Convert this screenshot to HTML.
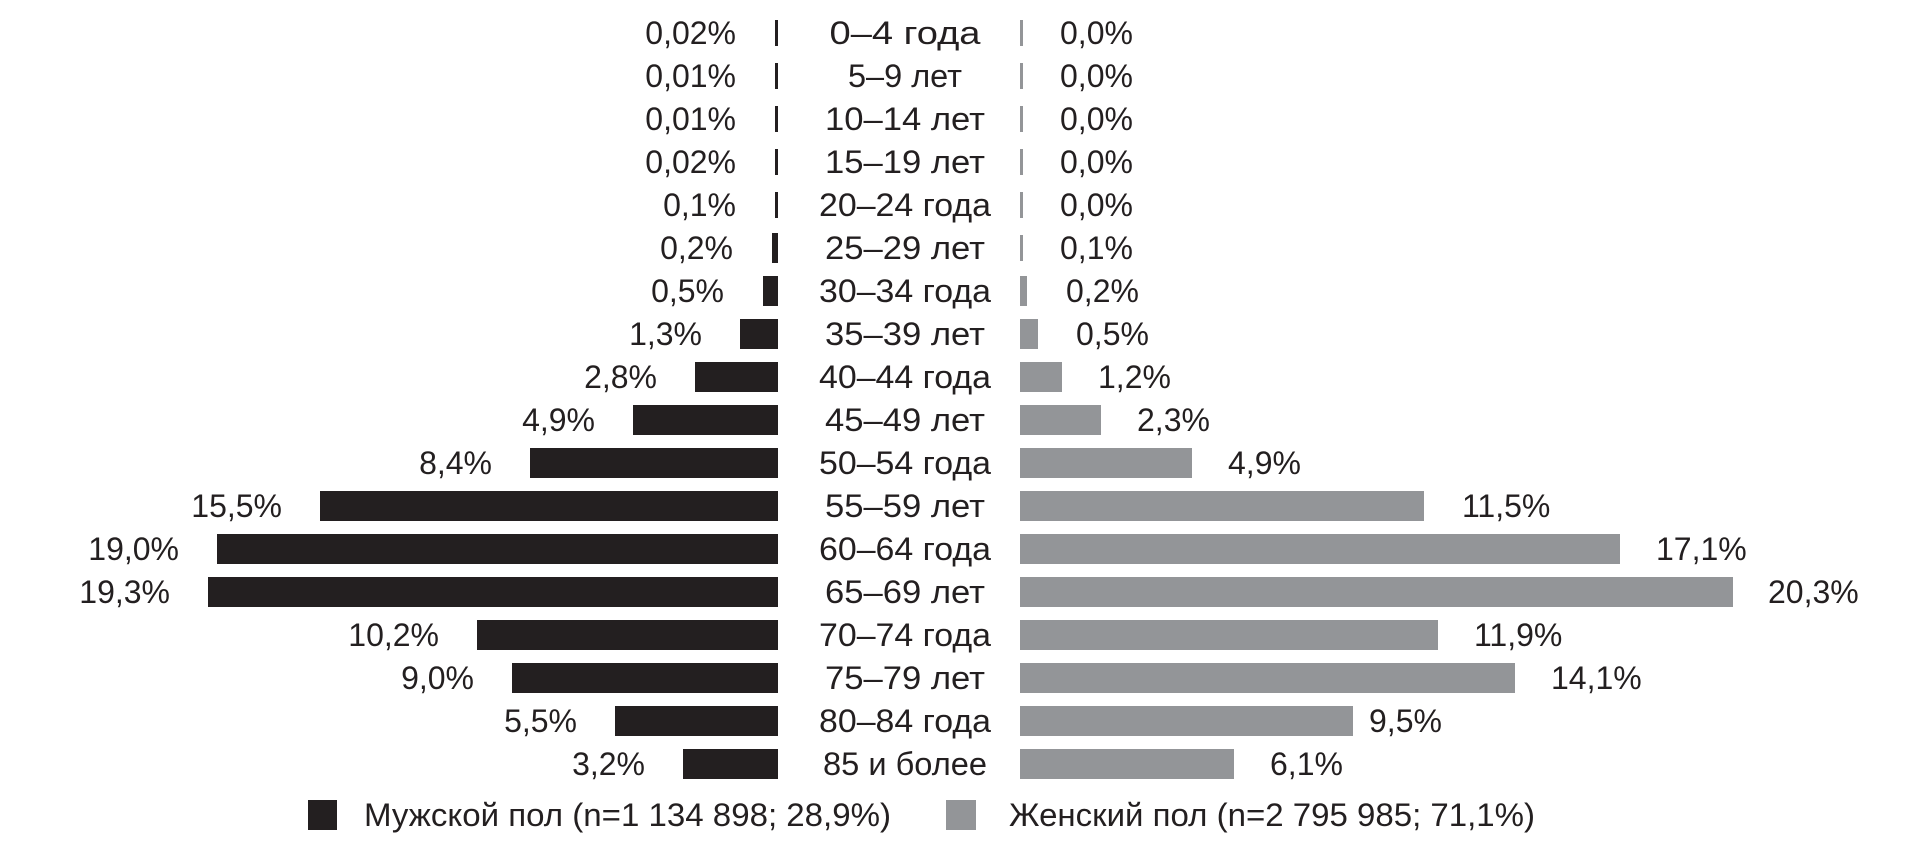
<!DOCTYPE html>
<html><head><meta charset="utf-8"><style>
html,body{margin:0;padding:0;background:#fff;}
svg{display:block;}
text{font-family:"Liberation Sans","DejaVu Sans",sans-serif;font-size:32px;fill:#231f20;}
.m{text-anchor:end;}
.c{text-anchor:middle;font-size:32px;}
</style></head><body>
<svg width="1915" height="844" viewBox="0 0 1915 844" xmlns="http://www.w3.org/2000/svg">
<g fill="#231f20">
<rect x="775" y="20" width="3" height="26"/>
<rect x="775" y="63" width="3" height="26"/>
<rect x="775" y="106" width="3" height="26"/>
<rect x="775" y="149" width="3" height="26"/>
<rect x="775" y="192" width="3" height="26"/>
<rect x="772" y="233" width="6" height="30"/>
<rect x="763" y="276" width="15" height="30"/>
<rect x="740" y="319" width="38" height="30"/>
<rect x="695" y="362" width="83" height="30"/>
<rect x="633" y="405" width="145" height="30"/>
<rect x="530" y="448" width="248" height="30"/>
<rect x="320" y="491" width="458" height="30"/>
<rect x="217" y="534" width="561" height="30"/>
<rect x="208" y="577" width="570" height="30"/>
<rect x="477" y="620" width="301" height="30"/>
<rect x="512" y="663" width="266" height="30"/>
<rect x="615" y="706" width="163" height="30"/>
<rect x="683" y="749" width="95" height="30"/>
<rect x="308" y="800" width="29" height="30"/>
</g>
<g fill="#939598">
<rect x="1020" y="20" width="3" height="26"/>
<rect x="1020" y="63" width="3" height="26"/>
<rect x="1020" y="106" width="3" height="26"/>
<rect x="1020" y="149" width="3" height="26"/>
<rect x="1020" y="192" width="3" height="26"/>
<rect x="1020" y="235" width="3" height="26"/>
<rect x="1020" y="276" width="7" height="30"/>
<rect x="1020" y="319" width="18" height="30"/>
<rect x="1020" y="362" width="42" height="30"/>
<rect x="1020" y="405" width="81" height="30"/>
<rect x="1020" y="448" width="172" height="30"/>
<rect x="1020" y="491" width="404" height="30"/>
<rect x="1020" y="534" width="600" height="30"/>
<rect x="1020" y="577" width="713" height="30"/>
<rect x="1020" y="620" width="418" height="30"/>
<rect x="1020" y="663" width="495" height="30"/>
<rect x="1020" y="706" width="333" height="30"/>
<rect x="1020" y="749" width="214" height="30"/>
<rect x="946" y="800" width="30" height="30"/>
</g>
<g>
<text class="m" x="736" y="44">0,02%</text>
<text class="m" x="736" y="87">0,01%</text>
<text class="m" x="736" y="130">0,01%</text>
<text class="m" x="736" y="173">0,02%</text>
<text class="m" x="736" y="216">0,1%</text>
<text class="m" x="733" y="259">0,2%</text>
<text class="m" x="724" y="302">0,5%</text>
<text class="m" x="702" y="345">1,3%</text>
<text class="m" x="657" y="388">2,8%</text>
<text class="m" x="595" y="431">4,9%</text>
<text class="m" x="492" y="474">8,4%</text>
<text class="m" x="282" y="517">15,5%</text>
<text class="m" x="179" y="560">19,0%</text>
<text class="m" x="170" y="603">19,3%</text>
<text class="m" x="439" y="646">10,2%</text>
<text class="m" x="474" y="689">9,0%</text>
<text class="m" x="577" y="732">5,5%</text>
<text class="m" x="645" y="775">3,2%</text>
</g>
<g>
<text x="1060" y="44">0,0%</text>
<text x="1060" y="87">0,0%</text>
<text x="1060" y="130">0,0%</text>
<text x="1060" y="173">0,0%</text>
<text x="1060" y="216">0,0%</text>
<text x="1060" y="259">0,1%</text>
<text x="1066" y="302">0,2%</text>
<text x="1076" y="345">0,5%</text>
<text x="1098" y="388">1,2%</text>
<text x="1137" y="431">2,3%</text>
<text x="1228" y="474">4,9%</text>
<text x="1462" y="517">11,5%</text>
<text x="1656" y="560">17,1%</text>
<text x="1768" y="603">20,3%</text>
<text x="1474" y="646">11,9%</text>
<text x="1551" y="689">14,1%</text>
<text x="1369" y="732">9,5%</text>
<text x="1270" y="775">6,1%</text>
</g>
<g>
<text class="c" x="905" y="44" textLength="151" lengthAdjust="spacingAndGlyphs">0–4 года</text>
<text class="c" x="905" y="87" textLength="114" lengthAdjust="spacingAndGlyphs">5–9 лет</text>
<text class="c" x="905" y="130" textLength="160" lengthAdjust="spacingAndGlyphs">10–14 лет</text>
<text class="c" x="905" y="173" textLength="160" lengthAdjust="spacingAndGlyphs">15–19 лет</text>
<text class="c" x="905" y="216" textLength="172" lengthAdjust="spacingAndGlyphs">20–24 года</text>
<text class="c" x="905" y="259" textLength="160" lengthAdjust="spacingAndGlyphs">25–29 лет</text>
<text class="c" x="905" y="302" textLength="172" lengthAdjust="spacingAndGlyphs">30–34 года</text>
<text class="c" x="905" y="345" textLength="160" lengthAdjust="spacingAndGlyphs">35–39 лет</text>
<text class="c" x="905" y="388" textLength="172" lengthAdjust="spacingAndGlyphs">40–44 года</text>
<text class="c" x="905" y="431" textLength="160" lengthAdjust="spacingAndGlyphs">45–49 лет</text>
<text class="c" x="905" y="474" textLength="172" lengthAdjust="spacingAndGlyphs">50–54 года</text>
<text class="c" x="905" y="517" textLength="160" lengthAdjust="spacingAndGlyphs">55–59 лет</text>
<text class="c" x="905" y="560" textLength="172" lengthAdjust="spacingAndGlyphs">60–64 года</text>
<text class="c" x="905" y="603" textLength="160" lengthAdjust="spacingAndGlyphs">65–69 лет</text>
<text class="c" x="905" y="646" textLength="172" lengthAdjust="spacingAndGlyphs">70–74 года</text>
<text class="c" x="905" y="689" textLength="160" lengthAdjust="spacingAndGlyphs">75–79 лет</text>
<text class="c" x="905" y="732" textLength="172" lengthAdjust="spacingAndGlyphs">80–84 года</text>
<text class="c" x="905" y="775" textLength="164" lengthAdjust="spacingAndGlyphs">85 и более</text>
</g>
<text x="364" y="826" style="font-size:32px" textLength="527" lengthAdjust="spacingAndGlyphs">Мужской пол (n=1 134 898; 28,9%)</text>
<text x="1009" y="826" style="font-size:32px" textLength="526" lengthAdjust="spacingAndGlyphs">Женский пол (n=2 795 985; 71,1%)</text>
</svg>
</body></html>
